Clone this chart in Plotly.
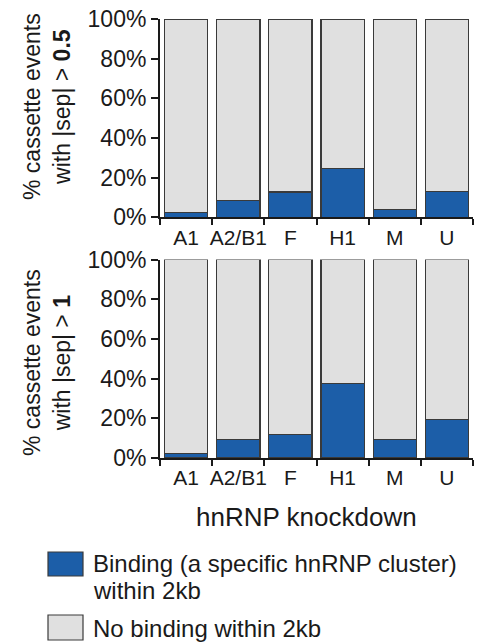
import plotly.graph_objects as go
from plotly.subplots import make_subplots

# data
knockdowns = ["A1", "A2/B1", "F", "H1", "M", "U"]
binding_sep05 = [2.4, 8.6, 12.8, 24.7, 4.0, 12.9]
binding_sep1 = [2.2, 9.4, 11.8, 37.5, 9.2, 19.3]
no_binding_sep05 = [100 - v for v in binding_sep05]
no_binding_sep1 = [100 - v for v in binding_sep1]
pct_ticks = [0, 20, 40, 60, 80, 100]
pct_labels = ["0%", "20%", "40%", "60%", "80%", "100%"]

blue = "#1c5ea8"
grey = "#e0e0e0"
edge = "#3a3a3a"
font = "Liberation Sans, Arial, sans-serif"

fig = make_subplots(rows=2, cols=1, vertical_spacing=0.096)

for row, (b, nb) in enumerate([(binding_sep05, no_binding_sep05),
                               (binding_sep1, no_binding_sep1)], start=1):
    fig.add_trace(go.Bar(x=knockdowns, y=b, marker_color=blue,
                         marker_line=dict(color=edge, width=1.2),
                         name="Binding", showlegend=False), row=row, col=1)
    fig.add_trace(go.Bar(x=knockdowns, y=nb, marker_color=grey,
                         marker_line=dict(color=edge, width=1.2),
                         name="No binding", showlegend=False), row=row, col=1)

fig.update_layout(
    width=481, height=642,
    barmode="stack", bargap=0.17,
    plot_bgcolor="white", paper_bgcolor="white",
    margin=dict(l=160, r=8, t=19, b=184),
    font=dict(family=font, size=21, color="#1a1a1a"),
)
fig.update_xaxes(showline=True, linecolor="#1a1a1a", linewidth=2,
                 ticks="outside", tickson="boundaries", ticklen=6,
                 tickcolor="#1a1a1a", tickwidth=1.5, tickangle=0,
                 tickfont=dict(size=21), showgrid=False, automargin=False)
fig.update_yaxes(range=[0, 100], showline=True, linecolor="#1a1a1a", linewidth=2,
                 ticks="outside", ticklen=7, tickcolor="#1a1a1a", tickwidth=1.5,
                 tickvals=pct_ticks, ticktext=pct_labels,
                 tickfont=dict(size=23), showgrid=False, zeroline=False,
                 automargin=False)

W, H = 481 - 160 - 8, 642 - 19 - 184


def px(x, y):
    return (x - 160) / W, (458 - y) / H


# y axis titles
for ytxt, ycen in [("% cassette events<br>with |sep| > <b>0.5</b>", 106),
                   ("% cassette events<br>with |sep| > <b>1</b>", 362)]:
    ax, ay = px(47, ycen)
    fig.add_annotation(text=ytxt, x=ax, y=ay, xref="paper", yref="paper",
                       textangle=-90, showarrow=False, xanchor="center",
                       yanchor="middle", font=dict(size=23))

# x axis title
ax, ay = px(306, 517)
fig.add_annotation(text="hnRNP knockdown", x=ax, y=ay, xref="paper", yref="paper",
                   showarrow=False, xanchor="center", yanchor="middle",
                   font=dict(size=26))

# legend
legend_boxes = [(blue, 552, 576), (grey, 615, 640)]
legend_lines = [("Binding (a specific hnRNP cluster)", 563),
                ("within 2kb", 590),
                ("No binding within 2kb", 628)]
for color, y0, y1 in legend_boxes:
    x0p, y0p = px(48, y1)
    x1p, y1p = px(83, y0)
    fig.add_shape(type="rect", xref="paper", yref="paper", x0=x0p, x1=x1p,
                  y0=y0p, y1=y1p, fillcolor=color,
                  line=dict(color=edge, width=1.2))
for label, ty in legend_lines:
    tx, typ = px(91, ty)
    fig.add_annotation(text=label, x=tx, y=typ, xref="paper", yref="paper",
                       showarrow=False, xanchor="left", yanchor="middle",
                       align="left", font=dict(size=24))

fig.write_html("out.html", config={"displayModeBar": False},
               post_script="document.body.style.margin='0';")
